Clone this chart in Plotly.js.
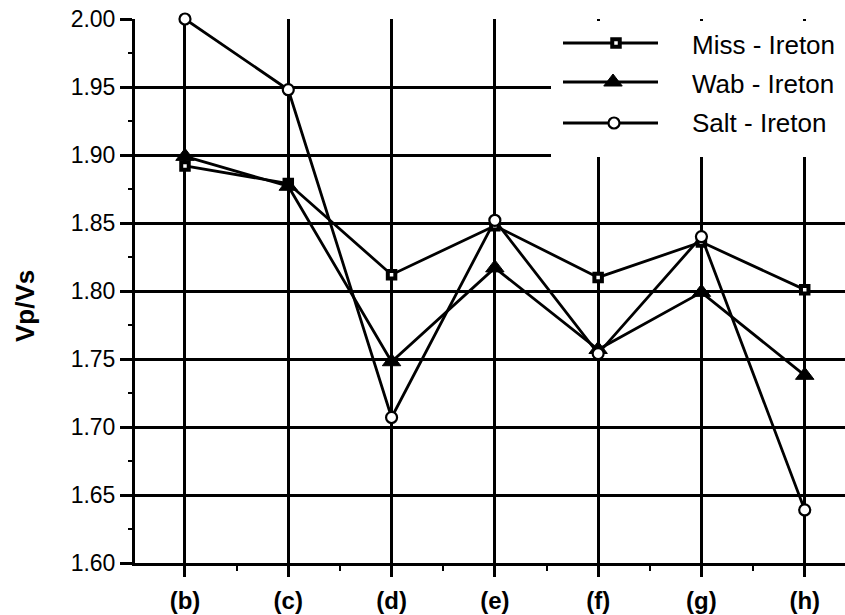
<!DOCTYPE html>
<html>
<head>
<meta charset="utf-8">
<script src="https://cdn.plot.ly/plotly-3.0.1.min.js"></script>
<style>html,body{margin:0;padding:0;background:#fff;}#chart{width:845px;height:615px;}</style>
</head>
<body>
<div id="chart"></div>
<script>
// ---- data ----
const categories = ['(b)', '(c)', '(d)', '(e)', '(f)', '(g)', '(h)'];
const seriesNames = ['Miss - Ireton', 'Wab - Ireton', 'Salt - Ireton'];
const missIreton = [1.892, 1.879, 1.812, 1.848, 1.810, 1.836, 1.801];
const wabIreton  = [1.899, 1.877, 1.748, 1.817, 1.757, 1.799, 1.738];
const saltIreton = [2.000, 1.948, 1.707, 1.852, 1.754, 1.840, 1.639];
const yTickStart = 1.60, yTickStep = 0.05;
const yTitle = 'Vp/Vs';

// ---- geometry ----
const W = 845, H = 615;
const L = 135, R = 845, T = 19, B = 563;
const xr = [-0.484, 6.39];
const yr = [1.60, 2.00];
function px2x(px) { return xr[0] + (px - L) / (R - L) * (xr[1] - xr[0]); }
function py2y(py) { return yr[1] - (py - T) / (B - T) * (yr[1] - yr[0]); }

const FONT = 'Liberation Sans, Arial, Helvetica, sans-serif';
const idx = categories.map((c, i) => i);

const styles = [
  {symbol: 'square', size: 7.5, color: 'white', line: {color: 'black', width: 4}},
  {symbol: 'triangle-up', size: 16, color: 'black', line: {color: 'black', width: 1}},
  {symbol: 'circle', size: 11, color: 'white', line: {color: 'black', width: 2.2}}
];
const values = [missIreton, wabIreton, saltIreton];

const traces = values.map((v, k) => ({
  type: 'scatter', mode: 'lines+markers', x: idx, y: v, name: seriesNames[k],
  line: {color: 'black', width: 2.8}, marker: styles[k], cliponaxis: false,
  hoverinfo: 'x+y+name'
}));

// legend (custom, long line samples)
const legRows = [
  {py: 43, mx: 616, ty: 45},
  {py: 82, mx: 613, ty: 84},
  {py: 123, mx: 614, ty: 123}
];
const shapes = [{
  type: 'rect', xref: 'x', yref: 'y', layer: 'between',
  x0: px2x(551), x1: px2x(850), y0: py2y(157), y1: py2y(21),
  fillcolor: 'white', line: {width: 0}
}];
const annotations = [{
  xref: 'paper', yref: 'paper', x: (25 - L) / (R - L), y: (B - 306) / (B - T),
  xanchor: 'center', yanchor: 'middle', textangle: -90, showarrow: false,
  text: '<b>' + yTitle + '</b>', font: {family: FONT, size: 26, color: 'black'}
}];
legRows.forEach((r, k) => {
  shapes.push({
    type: 'line', xref: 'x', yref: 'y', layer: 'between',
    x0: px2x(563), x1: px2x(658), y0: py2y(r.py), y1: py2y(r.py),
    line: {color: 'black', width: 2.8}
  });
  traces.push({
    type: 'scatter', mode: 'markers', x: [px2x(r.mx)], y: [py2y(r.py)],
    marker: styles[k], cliponaxis: false, hoverinfo: 'skip', showlegend: false
  });
  annotations.push({
    xref: 'paper', yref: 'paper', x: (690 - L) / (R - L), y: (B - r.ty) / (B - T),
    xanchor: 'left', yanchor: 'middle', showarrow: false,
    text: seriesNames[k], font: {family: FONT, size: 26, color: 'black'}
  });
});

const layout = {
  width: W, height: H,
  margin: {l: L, r: W - R, t: T, b: H - B, pad: 0},
  paper_bgcolor: 'white', plot_bgcolor: 'white',
  showlegend: false,
  font: {family: FONT, color: 'black'},
  xaxis: {
    range: xr, tickmode: 'array', tickvals: idx, ticktext: categories.map(c => '<b>' + c + '</b>'),
    showgrid: true, gridcolor: 'black', gridwidth: 3,
    showline: true, linecolor: 'black', linewidth: 3,
    ticks: 'outside', ticklen: 11, tickwidth: 3, tickcolor: 'black',
    tickfont: {family: FONT, size: 24, color: 'black'},
    ticklabelstandoff: 3,
    zeroline: false, fixedrange: true,
    minor: {tickmode: 'linear', tick0: 0.5, dtick: 1, ticks: 'outside', ticklen: 5, tickwidth: 2, tickcolor: 'black', showgrid: false}
  },
  yaxis: {
    range: yr, tickmode: 'linear', tick0: yTickStart, dtick: yTickStep, tickformat: '.2f',
    showgrid: true, gridcolor: 'black', gridwidth: 3,
    showline: true, linecolor: 'black', linewidth: 3,
    ticks: 'outside', ticklen: 12, tickwidth: 3, tickcolor: 'black',
    tickfont: {family: FONT, size: 23, color: 'black'},
    zeroline: false, fixedrange: true,
    minor: {tickmode: 'linear', tick0: yTickStart, dtick: yTickStep / 2, ticks: 'outside', ticklen: 4, tickwidth: 2, tickcolor: 'black', showgrid: false}
  },
  shapes: shapes,
  annotations: annotations
};

Plotly.newPlot('chart', traces, layout, {displayModeBar: false, staticPlot: true});
</script>
</body>
</html>
